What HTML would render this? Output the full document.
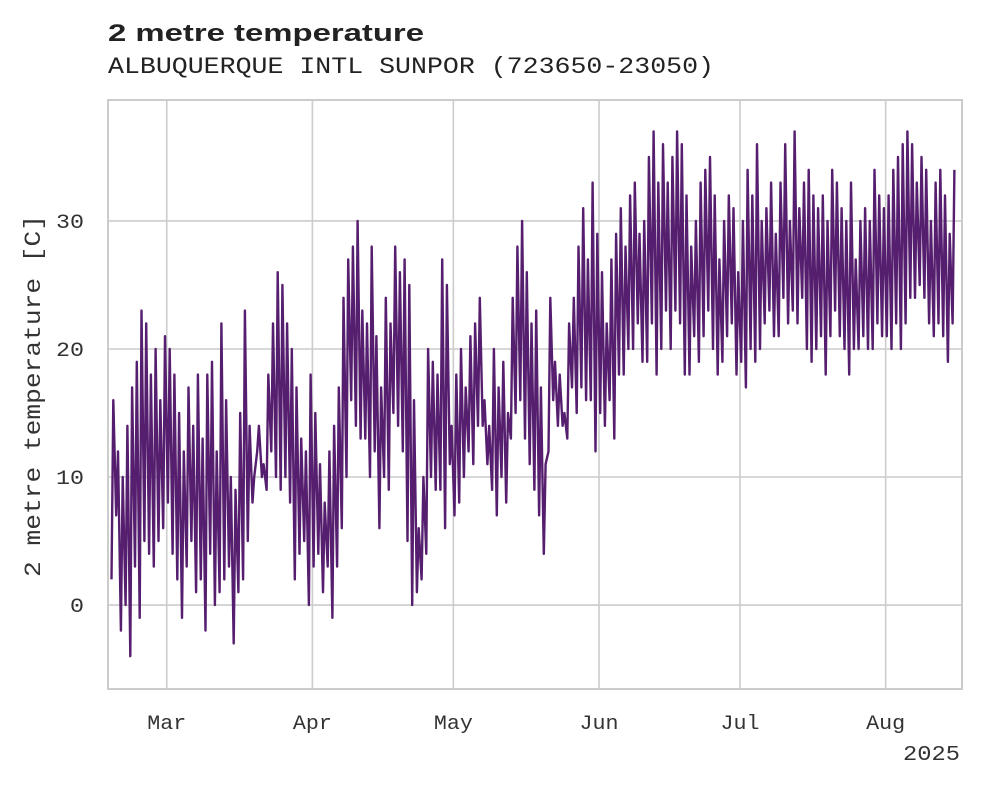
<!DOCTYPE html>
<html><head><meta charset="utf-8">
<style>
html,body{margin:0;padding:0;background:#fff;}
svg{display:block;}
.mono{font-family:"Liberation Mono",monospace;}
</style></head>
<body>
<svg id="chart" width="981" height="785" viewBox="0 0 981 785">
  <text x="108" y="41" font-family="Liberation Sans, sans-serif" font-weight="bold" font-size="24" fill="#222" textLength="316" lengthAdjust="spacingAndGlyphs">2 metre temperature</text>
  <text x="108" y="73" class="mono" font-size="23" fill="#222" textLength="606" lengthAdjust="spacingAndGlyphs">ALBUQUERQUE INTL SUNPOR (723650-23050)</text>
  <g id="grid"></g>
  <g id="series"></g>
  <rect x="108" y="100" width="854" height="589" fill="none" stroke="#ccc" stroke-width="2"/>
  <g id="ticks" class="mono" font-size="20" fill="#333"></g>
  <text transform="translate(40,396) rotate(-90)" text-anchor="middle" class="mono" font-size="23" fill="#333" textLength="362" lengthAdjust="spacingAndGlyphs">2 metre temperature [C]</text>
  <text x="960" y="760" text-anchor="end" class="mono" font-size="21" fill="#333" textLength="57" lengthAdjust="spacingAndGlyphs">2025</text>
</svg>
<script>
const startDate = "2025-02-17";
const dailyMax = [16,12,10,14,17,19,23,22,18,20,16,21,
20,18,15,12,17,14,18,13,18,19,12,22,16,10,9,15,23,14,10,14,11,18,22,26,25,22,20,17,13,12,18,
15,11,8,12,14,17,24,27,28,30,23,22,28,21,17,24,22,28,26,27,25,16,6,10,20,19,18,27,25,14,
18,20,17,21,22,24,16,14,20,17,19,15,24,28,30,26,22,23,17,11,24,19,18,15,22,24,28,31,27,33,29,
26,22,27,29,31,28,32,33,29,30,35,37,33,36,33,35,37,36,32,28,30,33,34,35,32,27,30,32,31,26,
30,34,32,36,30,31,33,29,33,36,30,37,31,33,34,32,31,32,30,34,33,31,30,33,27,30,31,30,34,32,31,
32,34,35,36,37,36,33,35,34,30,33,34,32,29,34];
const dailyMin = [2,7,-2,0,-4,3,-1,5,4,3,5,6,
8,4,2,-1,3,5,1,2,-2,4,0,1,2,3,-3,1,2,5,8,12,10,9,12,10,9,10,8,2,4,5,0,
3,4,1,3,-1,3,6,10,16,14,13,13,10,12,6,10,9,15,14,12,5,0,1,2,4,10,9,9,6,11,
7,8,10,12,11,14,14,11,9,7,10,8,13,15,16,13,11,9,7,4,12,16,14,14,13,17,15,17,16,16,12,
15,14,16,13,18,18,20,20,22,19,19,22,18,20,23,20,23,22,18,18,21,19,21,23,20,18,19,21,22,18,
19,17,20,19,20,22,23,21,21,24,22,23,22,24,20,19,20,21,18,21,23,21,20,18,20,20,21,20,20,22,21,
21,20,22,20,22,24,24,25,24,22,21,22,21,19,22];
const yTicks = [0,10,20,30];
const monthLabels = ["Mar","Apr","May","Jun","Jul","Aug"];
const monthDates = ["2025-03-01","2025-04-01","2025-05-01","2025-06-01","2025-07-01","2025-08-01"];

const NS="http://www.w3.org/2000/svg";
const X0=108,X1=962,Y0=100,Y1=689;
const tMin=Date.parse("2025-02-16T12:00:00Z"), tMax=Date.parse("2025-08-17T06:00:00Z");
function xScale(t){return X0+(t-tMin)/(tMax-tMin)*(X1-X0);}
const vMin=-6.56,vMax=39.45;
function yScale(v){return Y1-(v-vMin)/(vMax-vMin)*(Y1-Y0);}

const grid=document.getElementById('grid'), ticks=document.getElementById('ticks');
yTicks.forEach(v=>{
  const y=yScale(v);
  const l=document.createElementNS(NS,'line');
  l.setAttribute('x1',X0);l.setAttribute('x2',X1);l.setAttribute('y1',y);l.setAttribute('y2',y);
  l.setAttribute('stroke','#ccc');l.setAttribute('stroke-width','1.6');
  
  
  grid.appendChild(l);
  const t=document.createElementNS(NS,'text');
  t.setAttribute('x',84);t.setAttribute('y',y+7);t.setAttribute('text-anchor','end');
  t.setAttribute('textLength',String(v).length*14);
  t.setAttribute('lengthAdjust','spacingAndGlyphs');
  t.textContent=v;
  
  
  ticks.appendChild(t);
});
monthDates.forEach((d,i)=>{
  const x=xScale(Date.parse(d+"T00:00:00Z"));
  const l=document.createElementNS(NS,'line');
  l.setAttribute('x1',x);l.setAttribute('x2',x);l.setAttribute('y1',Y0);l.setAttribute('y2',Y1);
  l.setAttribute('stroke','#ccc');l.setAttribute('stroke-width','1.6');
  
  
  grid.appendChild(l);
  const t=document.createElementNS(NS,'text');
  t.setAttribute('x',x);t.setAttribute('y',729);t.setAttribute('text-anchor','middle');
  t.setAttribute('textLength',39);
  t.setAttribute('lengthAdjust','spacingAndGlyphs');
  t.textContent=monthLabels[i];
  
  
  ticks.appendChild(t);
});
const day0=Date.parse(startDate+"T00:00:00Z"), H=3600000;
let pts=[];
dailyMax.forEach((mx,i)=>{
  const base=day0+i*24*H;
  pts.push(xScale(base+6*H).toFixed(1)+","+yScale(dailyMin[i]).toFixed(1));
  pts.push(xScale(base+15*H).toFixed(1)+","+yScale(mx).toFixed(1));
});
const pl=document.createElementNS(NS,'polyline');
pl.setAttribute('points',pts.join(' '));
pl.setAttribute('fill','none');pl.setAttribute('stroke','#561e6e');
pl.setAttribute('stroke-width','2.4');pl.setAttribute('stroke-linejoin','round');


document.getElementById('series').appendChild(pl);
</script>
</body></html>
